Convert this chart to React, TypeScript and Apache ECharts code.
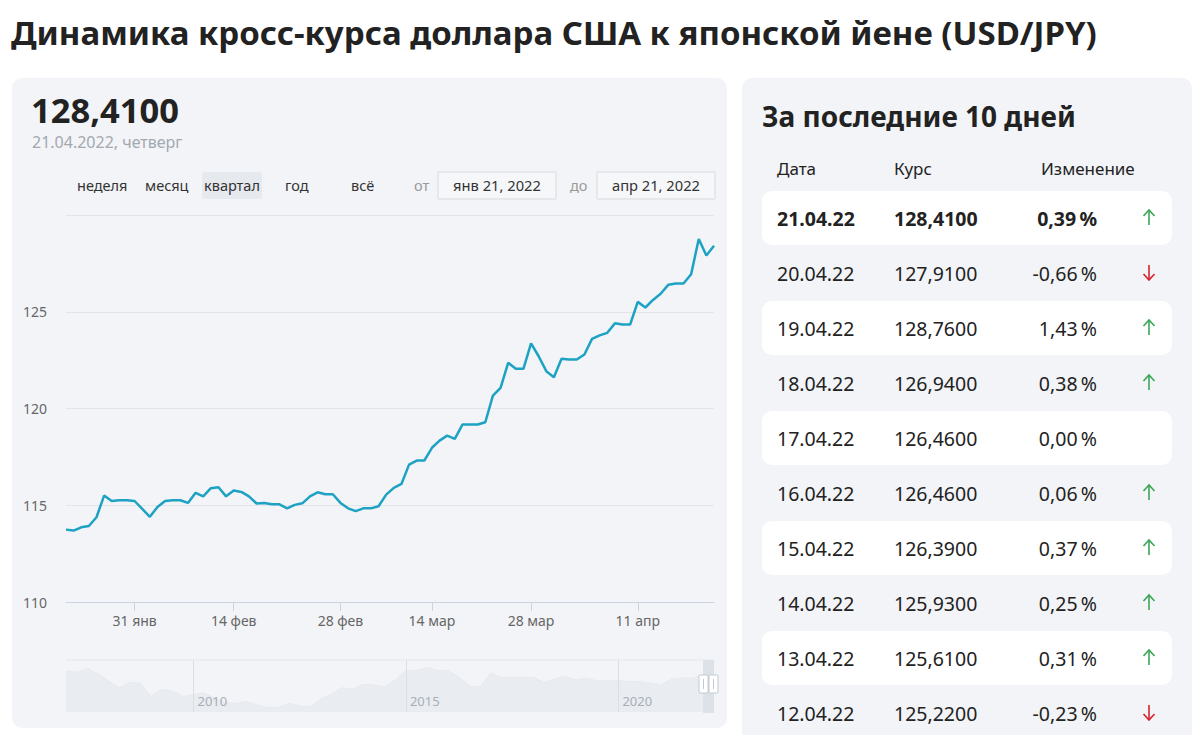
import React, { useEffect, useRef } from "react";
import * as echarts from "echarts";

// ---- Main chart data (USD/JPY, 21.01.2022 – 21.04.2022) ----
const dates = [
  "21.01", "22.01", "24.01", "25.01", "26.01", "27.01", "28.01", "29.01", "30.01", "31.01",
  "01.02", "02.02", "03.02", "04.02", "05.02", "07.02", "08.02", "09.02", "10.02", "11.02", "12.02", "13.02", "14.02",
  "15.02", "16.02", "17.02", "18.02", "19.02", "20.02", "21.02", "22.02", "23.02", "24.02", "25.02", "26.02", "27.02", "28.02",
  "01.03", "02.03", "03.03", "04.03", "05.03", "06.03", "09.03", "10.03", "11.03", "12.03", "13.03", "14.03",
  "15.03", "16.03", "17.03", "18.03", "19.03", "21.03", "22.03", "23.03", "24.03", "25.03", "26.03", "27.03", "28.03",
  "29.03", "30.03", "31.03", "01.04", "02.04", "03.04", "04.04", "05.04", "06.04", "07.04", "08.04", "09.04", "10.04", "11.04",
  "12.04", "13.04", "14.04", "15.04", "16.04", "17.04", "18.04", "19.04", "20.04", "21.04",
];
const rates = [
  113.74, 113.69, 113.86, 113.93, 114.38, 115.5, 115.22, 115.26, 115.26, 115.22,
  114.81, 114.4, 114.91, 115.22, 115.26, 115.26, 115.12, 115.64, 115.46, 115.88, 115.93, 115.46, 115.76,
  115.69, 115.46, 115.09, 115.12, 115.05, 115.05, 114.84, 115.02, 115.1, 115.46, 115.67, 115.57, 115.57, 115.12,
  114.84, 114.7, 114.84, 114.84, 114.95, 115.55, 115.9, 116.1, 117.1, 117.31, 117.31, 117.97,
  118.34, 118.6, 118.43, 119.17, 119.17, 119.17, 119.29, 120.67, 121.07, 122.36, 122.05, 122.05, 123.36,
  122.7, 121.93, 121.62, 122.57, 122.53, 122.53, 122.79, 123.6, 123.78, 123.91, 124.4, 124.34, 124.34, 125.51,
  125.22, 125.61, 125.93, 126.39, 126.46, 126.46, 126.94, 128.76, 127.91, 128.41,
];
const tickDates = ["31.01", "14.02", "28.02", "14.03", "28.03", "11.04"];
const tickLabels = ["31 янв", "14 фев", "28 фев", "14 мар", "28 мар", "11 апр"];

// ---- Navigator (long history, quarterly) ----
const navQuarters = [
  "2007-01", "2007-04", "2007-07", "2007-10", "2008-01", "2008-04", "2008-07", "2008-10",
  "2009-01", "2009-04", "2009-07", "2009-10", "2010-01", "2010-04", "2010-07", "2010-10",
  "2011-01", "2011-04", "2011-07", "2011-10", "2012-01", "2012-04", "2012-07", "2012-10",
  "2013-01", "2013-04", "2013-07", "2013-10", "2014-01", "2014-04", "2014-07", "2014-10",
  "2015-01", "2015-04", "2015-07", "2015-10", "2016-01", "2016-04", "2016-07", "2016-10",
  "2017-01", "2017-04", "2017-07", "2017-10", "2018-01", "2018-04", "2018-07", "2018-10",
  "2019-01", "2019-04", "2019-07", "2019-10", "2020-01", "2020-04", "2020-07", "2020-10",
  "2021-01", "2021-04", "2021-07", "2021-10", "2022-01", "2022-04",
];
const navValues = [
  119, 118, 122, 116, 108, 100, 106, 105,
  90, 98, 96, 90, 92, 94, 88, 83,
  82, 84, 80, 77, 77, 82, 79, 78,
  87, 93, 100, 98, 104, 103, 101, 109,
  120, 120, 123, 120, 120, 112, 102, 101,
  117, 112, 112, 112, 112, 106, 110, 113,
  109, 111, 108, 108, 108, 107, 107, 105,
  103, 110, 111, 111, 115, 128,
];
const navYearMarks = ["2010-01", "2015-01", "2020-01"];

// ---- Table: last 10 days ----
const tableDates = ["21.04.22", "20.04.22", "19.04.22", "18.04.22", "17.04.22", "16.04.22", "15.04.22", "14.04.22", "13.04.22", "12.04.22"];
const tableRates = ["128,4100", "127,9100", "128,7600", "126,9400", "126,4600", "126,4600", "126,3900", "125,9300", "125,6100", "125,2200"];
const tableChanges = ["0,39\u2009%", "-0,66\u2009%", "1,43\u2009%", "0,38\u2009%", "0,00\u2009%", "0,06\u2009%", "0,37\u2009%", "0,25\u2009%", "0,31\u2009%", "-0,23\u2009%"];
const tableDirections = [1, -1, 1, 1, 0, 1, 1, 1, 1, -1];

const periodButtons = ["неделя", "месяц", "квартал", "год", "всё"];
const periodX = [77, 145, 204, 285, 351];

const FONT = '"Noto Sans", "Open Sans", sans-serif';

function buildGraphic() {
  const els: any[] = [];
  // panels
  els.push({ type: "rect", z: -100, shape: { x: 12, y: 78, width: 715, height: 650, r: 10 }, style: { fill: "#f2f4f7" } });
  els.push({ type: "rect", z: -100, shape: { x: 742, y: 78, width: 450, height: 700, r: 10 }, style: { fill: "#f2f4f7" } });

  // title
  els.push({ type: "text", style: { text: "Динамика кросс-курса доллара США к японской йене (USD/JPY)", x: 11, y: 32, font: `bold 33px ${FONT}`, fill: "#222", textVerticalAlign: "middle" } });

  // left header
  els.push({ type: "text", style: { text: "128,4100", x: 31, y: 109, font: `bold 34.5px ${FONT}`, lineHeight: 30, fill: "#222", textVerticalAlign: "middle" } });
  els.push({ type: "text", style: { text: "21.04.2022, четверг", x: 32, y: 142, font: `16px ${FONT}`, lineHeight: 17, fill: "#a3a8b1", textVerticalAlign: "middle" } });

  // period buttons
  els.push({ type: "rect", z: -50, shape: { x: 202, y: 172, width: 60, height: 27, r: 2 }, style: { fill: "#e6e9ee" } });
  periodButtons.forEach((b, i) => {
    els.push({ type: "text", style: { text: b, x: periodX[i], y: 185, font: `14.5px ${FONT}`, fill: "#333", textVerticalAlign: "middle" } });
  });
  els.push({ type: "text", style: { text: "от", x: 414, y: 185, font: `14.5px ${FONT}`, fill: "#999", textVerticalAlign: "middle" } });
  els.push({ type: "rect", z: -50, shape: { x: 438, y: 172, width: 118, height: 27 }, style: { fill: "#f6f7f9", stroke: "#d6dadf", lineWidth: 1 } });
  els.push({ type: "text", style: { text: "янв 21, 2022", x: 497, y: 185, font: `14.7px ${FONT}`, fill: "#333", textAlign: "center", textVerticalAlign: "middle" } });
  els.push({ type: "text", style: { text: "до", x: 570, y: 185, font: `14.5px ${FONT}`, fill: "#999", textVerticalAlign: "middle" } });
  els.push({ type: "rect", z: -50, shape: { x: 597, y: 172, width: 118, height: 27 }, style: { fill: "#f6f7f9", stroke: "#d6dadf", lineWidth: 1 } });
  els.push({ type: "text", style: { text: "апр 21, 2022", x: 656, y: 185, font: `14.7px ${FONT}`, fill: "#333", textAlign: "center", textVerticalAlign: "middle" } });

  // navigator frame & window
  els.push({ type: "line", z: 5, shape: { x1: 66, y1: 660, x2: 714, y2: 660 }, style: { stroke: "#e3e6eb", lineWidth: 1 } });
  els.push({ type: "rect", z: 5, shape: { x: 703, y: 660, width: 11, height: 53 }, style: { fill: "#dde2e9" } });
  [699, 709].forEach((hx) => {
    els.push({ type: "rect", z: 6, shape: { x: hx, y: 675, width: 9, height: 18, r: 1 }, style: { fill: "#ffffff", stroke: "#c3c9d2", lineWidth: 1 } });
    els.push({ type: "line", z: 7, shape: { x1: hx + 4.5, y1: 679, x2: hx + 4.5, y2: 689 }, style: { stroke: "#c3c9d2", lineWidth: 1 } });
  });

  // right panel
  els.push({ type: "text", style: { text: "За последние 10 дней", x: 762, y: 116, font: `bold 28px ${FONT}`, fill: "#222", textVerticalAlign: "middle" } });
  els.push({ type: "text", style: { text: "Дата", x: 777, y: 168, font: `17px ${FONT}`, fill: "#222", textVerticalAlign: "middle" } });
  els.push({ type: "text", style: { text: "Курс", x: 894, y: 168, font: `17px ${FONT}`, fill: "#222", textVerticalAlign: "middle" } });
  els.push({ type: "text", style: { text: "Изменение", x: 1041, y: 168, font: `17px ${FONT}`, fill: "#222", textVerticalAlign: "middle" } });

  tableDates.forEach((d, i) => {
    const yc = 218 + 55 * i;
    const weight = i === 0 ? "bold " : "";
    if (i % 2 === 0) {
      els.push({ type: "rect", z: -50, shape: { x: 762, y: yc - 27, width: 410, height: 54, r: 10 }, style: { fill: "#ffffff" } });
    }
    els.push({ type: "text", style: { text: d, x: 777, y: yc, font: `${weight}19.5px ${FONT}`, fill: "#222", textVerticalAlign: "middle" } });
    els.push({ type: "text", style: { text: tableRates[i], x: 894, y: yc, font: `${weight}19.5px ${FONT}`, fill: "#222", textVerticalAlign: "middle" } });
    els.push({ type: "text", style: { text: tableChanges[i], x: 1097, y: yc, font: `${weight}19.5px ${FONT}`, fill: "#222", textAlign: "right", textVerticalAlign: "middle" } });
    const dir = tableDirections[i];
    if (dir !== 0) {
      const color = dir > 0 ? "#3aa655" : "#d8232a";
      const tip = dir > 0 ? yc - 8 : yc + 7;
      const tail = dir > 0 ? yc + 7 : yc - 8;
      const wing = dir > 0 ? tip + 6 : tip - 6;
      els.push({ type: "line", shape: { x1: 1149, y1: tip, x2: 1149, y2: tail }, style: { stroke: color, lineWidth: 1.6 } });
      els.push({ type: "polyline", shape: { points: [[1143.5, wing], [1149, tip], [1154.5, wing]] }, style: { stroke: color, fill: "none", lineWidth: 1.6 } });
    }
  });
  return els;
}

export default function App() {
  const ref = useRef<HTMLDivElement>(null);
  useEffect(() => {
    if (!ref.current) return;
    const chart = echarts.init(ref.current, undefined, { renderer: "svg" });
    const isTick = (_i: number, v: string) => tickDates.indexOf(v) >= 0;
    const isYear = (_i: number, v: string) => navYearMarks.indexOf(v) >= 0;
    chart.setOption({
      animation: false,
      backgroundColor: "#ffffff",
      textStyle: { fontFamily: FONT },
      grid: [
        { left: 66, right: 483, top: 215, height: 387 },
        { left: 66, right: 483, top: 660, height: 52 },
      ],
      xAxis: [
        {
          type: "category",
          gridIndex: 0,
          data: dates,
          boundaryGap: false,
          axisLine: { lineStyle: { color: "#cbd4e3" } },
          axisTick: { show: true, interval: isTick, length: 9, lineStyle: { color: "#cbd4e3" } },
          axisLabel: {
            interval: isTick,
            formatter: (v: string) => tickLabels[tickDates.indexOf(v)] || "",
            color: "#666",
            fontSize: 14,
            margin: 11,
          },
          splitLine: { show: false },
        },
        {
          type: "category",
          gridIndex: 1,
          data: navQuarters,
          boundaryGap: false,
          z: 4,
          axisLine: { show: false },
          axisTick: { show: false },
          axisLabel: {
            interval: isYear,
            formatter: (v: string) => v.slice(0, 4),
            inside: true,
            align: "left",
            padding: [0, 0, 0, 4],
            margin: 5,
            color: "#a8aeb7",
            fontSize: 13,
          },
          splitLine: { show: true, interval: isYear, lineStyle: { color: "#dadee5" } },
        },
      ],
      yAxis: [
        {
          type: "value",
          gridIndex: 0,
          min: 110,
          max: 130,
          interval: 5,
          axisLine: { show: false },
          axisTick: { show: false },
          axisLabel: { color: "#666", fontSize: 14, margin: 19, showMaxLabel: false },
          splitLine: { lineStyle: { color: "#e1e5ea" } },
        },
        {
          type: "value",
          gridIndex: 1,
          min: 72,
          max: 132,
          show: false,
          splitLine: { show: false },
        },
      ],
      series: [
        {
          type: "line",
          xAxisIndex: 0,
          yAxisIndex: 0,
          data: rates,
          symbol: "none",
          lineStyle: { color: "#1ea2c4", width: 2.5 },
          z: 3,
        },
        {
          type: "line",
          xAxisIndex: 1,
          yAxisIndex: 1,
          data: navValues,
          symbol: "none",
          lineStyle: { color: "#e6e9ee", width: 1 },
          areaStyle: { color: "#e9ecf1", opacity: 1 },
          z: 1,
        },
      ],
      graphic: buildGraphic(),
    });
    return () => chart.dispose();
  }, []);
  return <div ref={ref} style={{ position: "absolute", left: 0, top: 0, width: 1197, height: 735 }} />;
}
